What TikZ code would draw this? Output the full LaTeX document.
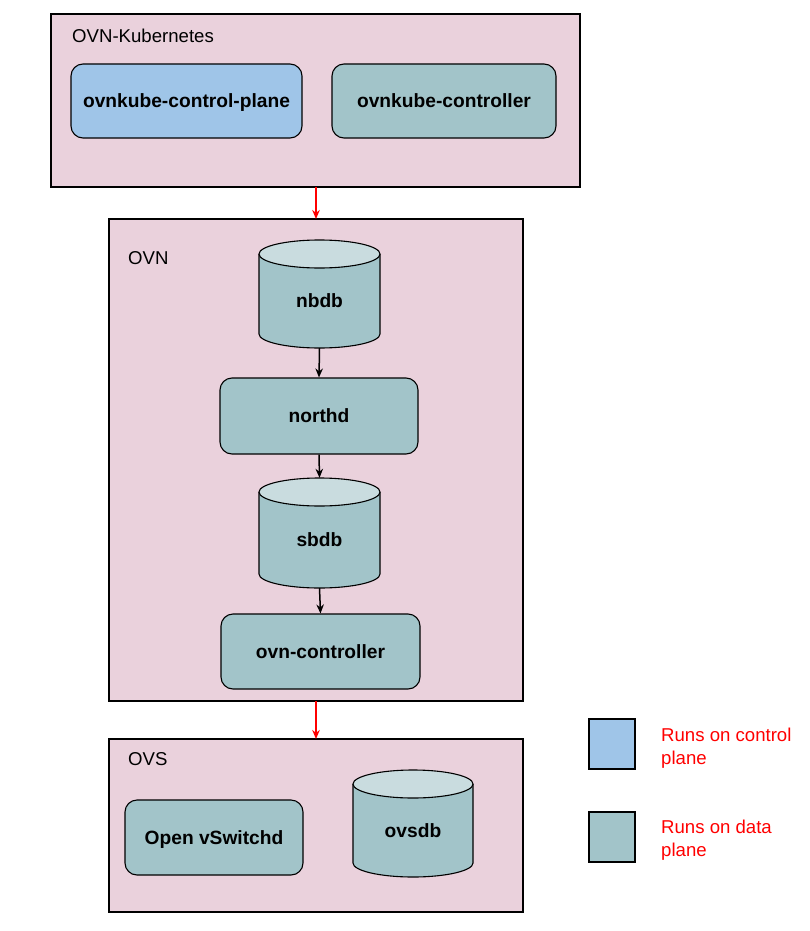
\documentclass[tikz,border=0pt]{standalone}
\usepackage{fontspec}
\setmainfont{Liberation Sans}
\usetikzlibrary{arrows.meta}
\definecolor{pinkbg}{HTML}{EAD1DC}
\definecolor{cpblue}{HTML}{9FC5E8}
\definecolor{dpteal}{HTML}{A2C4C9}
\definecolor{cyltop}{HTML}{C9DCDF}
\tikzset{
  group/.style={draw=black, line width=1.2pt, fill=pinkbg},
  comp/.style={draw=black, line width=1.1pt, rounded corners=12pt, inner sep=0pt, text depth=0pt, font=\fontsize{19.2}{22}\selectfont\bfseries},
  cpcomp/.style={comp, fill=cpblue},
  dpcomp/.style={comp, fill=dpteal},
  grouplabel/.style={anchor=west, inner sep=0pt, font=\fontsize{18.6}{22}\selectfont},
  redarrow/.style={draw=red, line width=1.5pt, -{Stealth[length=9pt,width=7.5pt]}},
  blkarrow/.style={draw=black, line width=1.5pt, -{Stealth[length=9pt,width=7.5pt]}},
  legendbox/.style={draw=black, line width=1.1pt, minimum width=46pt, minimum height=50pt, inner sep=0pt},
  legendtext/.style={anchor=west, inner sep=0pt, align=left, text=red, font=\fontsize{18.6}{23}\selectfont},
}
% #1 name, #2 cx, #3 cy, #4 width, #5 height, #6 label
\newcommand\mycyl[6]{%
  \pgfmathsetmacro\cxa{#2-#4/2}%
  \pgfmathsetmacro\cxb{#2+#4/2}%
  \pgfmathsetmacro\cya{#3-#5/2+14}%
  \pgfmathsetmacro\cyb{#3+#5/2-14}%
  \pgfmathsetmacro\kx{#4/2*0.5523}%
  \pgfmathsetmacro\rxx{#4/2}%
  \filldraw[fill=dpteal, draw=black, line width=1.1pt] (\cxa,\cya) -- (\cxa,\cyb) .. controls (\cxa,\cyb+7.73) and (#2-\kx,\cyb+14) .. (#2,\cyb+14) .. controls (#2+\kx,\cyb+14) and (\cxb,\cyb+7.73) .. (\cxb,\cyb) -- (\cxb,\cya);
  \filldraw[fill=cyltop, draw=black, line width=1.1pt] (#2,\cya) ellipse [x radius=\rxx, y radius=14];
  \node[minimum width=#4, minimum height=#5, inner sep=0pt] (#1) at (#2,#3) {};
  \node[inner sep=0pt, text depth=0pt, font=\fontsize{19.2}{22}\selectfont\bfseries] at (#2,#3+7) {#6};
}
\begin{document}
\begin{tikzpicture}[x=1pt,y=-1pt]
\useasboundingbox (0,0) rectangle (810,931);
% groups
\node[group, minimum width=529, minimum height=173, inner sep=0pt] (k8s) at (315.5,100.5) {};
\node[grouplabel] (k8slbl) at (72,35.5) {OVN-Kubernetes};
\node[group, minimum width=414, minimum height=482, inner sep=0pt] (ovn) at (316,460) {};
\node[grouplabel] (ovnlbl) at (128,258.5) {OVN};
\node[group, minimum width=414, minimum height=173, inner sep=0pt] (ovs) at (316,825.5) {};
\node[grouplabel] (ovslbl) at (128,759.5) {OVS};
% components
\node[cpcomp, minimum width=231, minimum height=74] (cp) at (186.5,101) {ovnkube-control-plane};
\node[dpcomp, minimum width=224, minimum height=74] (ctrl) at (444,101) {ovnkube-controller};
\mycyl{nbdb}{319.5}{294}{121}{108}{nbdb}
\node[dpcomp, minimum width=198, minimum height=76] (northd) at (319,416) {northd};
\mycyl{sbdb}{319.5}{533}{121}{110}{sbdb}
\node[dpcomp, minimum width=199, minimum height=75] (ovnc) at (320.5,651.5) {ovn-controller};
\node[dpcomp, minimum width=178, minimum height=75] (vsw) at (214,837.5) {Open vSwitchd};
\mycyl{ovsdb}{413}{823.5}{120}{107}{ovsdb}
% connectors
\draw[redarrow] (316,187) -- (316,219);
\draw[blkarrow] (nbdb.south) -- (northd.north);
\draw[blkarrow] (northd.south) -- (sbdb.north);
\draw[blkarrow] (sbdb.south) -- (ovnc.north);
\draw[redarrow] (316,701) -- (316,739);
% legend
\node[legendbox, fill=cpblue] (lgcp) at (612,744) {};
\node[legendtext] (lgcptext) at (661,748) {Runs on control\\plane};
\node[legendbox, fill=dpteal] (lgdp) at (612,837) {};
\node[legendtext] (lgdptext) at (661,840) {Runs on data\\plane};
\end{tikzpicture}
\end{document}
